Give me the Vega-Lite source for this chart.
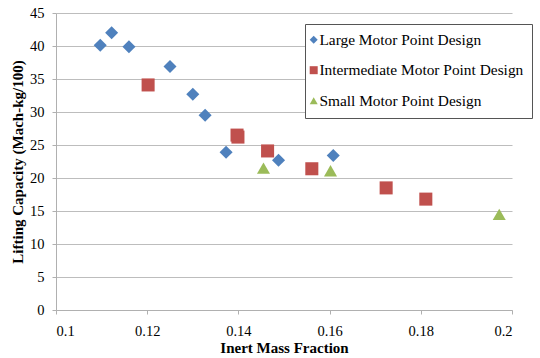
{
  "$schema": "https://vega.github.io/schema/vega-lite/v6.json",
  "autosize": {"type": "none"},
  "width": 456,
  "height": 297,
  "padding": {"left": 56, "top": 13, "right": 28, "bottom": 48},
  "background": "white",
  "data": {
    "values": [
      {"series": "Large Motor Point Design", "x": 0.1097, "y": 40.1},
      {"series": "Large Motor Point Design", "x": 0.1122, "y": 42.0},
      {"series": "Large Motor Point Design", "x": 0.1160, "y": 39.9},
      {"series": "Large Motor Point Design", "x": 0.1250, "y": 36.9},
      {"series": "Large Motor Point Design", "x": 0.1300, "y": 32.7},
      {"series": "Large Motor Point Design", "x": 0.1327, "y": 29.5},
      {"series": "Large Motor Point Design", "x": 0.1373, "y": 23.9},
      {"series": "Large Motor Point Design", "x": 0.1488, "y": 22.7},
      {"series": "Large Motor Point Design", "x": 0.1608, "y": 23.4},
      {"series": "Intermediate Motor Point Design", "x": 0.1202, "y": 34.1},
      {"series": "Intermediate Motor Point Design", "x": 0.1397, "y": 26.5},
      {"series": "Intermediate Motor Point Design", "x": 0.1399, "y": 26.2},
      {"series": "Intermediate Motor Point Design", "x": 0.1464, "y": 24.1},
      {"series": "Intermediate Motor Point Design", "x": 0.1561, "y": 21.4},
      {"series": "Intermediate Motor Point Design", "x": 0.1724, "y": 18.5},
      {"series": "Intermediate Motor Point Design", "x": 0.1811, "y": 16.8},
      {"series": "Small Motor Point Design", "x": 0.1455, "y": 21.5},
      {"series": "Small Motor Point Design", "x": 0.1602, "y": 21.1},
      {"series": "Small Motor Point Design", "x": 0.1972, "y": 14.5}
    ]
  },
  "mark": {"type": "point", "filled": true, "opacity": 1, "size": 170},
  "encoding": {
    "x": {
      "field": "x", "type": "quantitative",
      "scale": {"domain": [0.1, 0.2], "nice": false, "zero": false},
      "axis": {
        "title": "Inert Mass Fraction",
        "values": [0.1, 0.12, 0.14, 0.16, 0.18, 0.2],
        "format": "~g",
        "grid": false,
        "tickSize": 4,
        "labelPadding": 10,
        "titlePadding": 3
      }
    },
    "y": {
      "field": "y", "type": "quantitative",
      "scale": {"domain": [0, 45], "nice": false},
      "axis": {
        "title": "Lifting Capacity (Mach-kg/100)",
        "values": [0, 5, 10, 15, 20, 25, 30, 35, 40, 45],
        "grid": true,
        "tickSize": 4,
        "labelPadding": 8,
        "titlePadding": 4
      }
    },
    "color": {
      "field": "series", "type": "nominal",
      "scale": {
        "domain": ["Large Motor Point Design", "Intermediate Motor Point Design", "Small Motor Point Design"],
        "range": ["#4F81BD", "#C0504D", "#9BBB59"]
      },
      "legend": {
        "title": null,
        "orient": "none",
        "legendX": 249,
        "legendY": 11,
        "padding": 8,
        "rowPadding": 13.5,
        "symbolSize": 64,
        "symbolOffset": -7,
        "labelOffset": -2,
        "strokeColor": "#555555",
        "fillColor": "white",
        "labelFont": "Liberation Serif",
        "labelFontSize": 15.4,
        "labelColor": "#000000",
        "labelLimit": 400
      }
    },
    "shape": {
      "field": "series", "type": "nominal",
      "scale": {
        "domain": ["Large Motor Point Design", "Intermediate Motor Point Design", "Small Motor Point Design"],
        "range": ["diamond", "square", "triangle-up"]
      },
      "legend": null
    }
  },
  "config": {
    "view": {"stroke": null},
    "axis": {
      "labelFont": "Liberation Serif",
      "labelFontSize": 14.5,
      "labelColor": "#000000",
      "titleFont": "Liberation Serif",
      "titleFontSize": 15,
      "titleFontWeight": "bold",
      "titleColor": "#000000",
      "domainColor": "#B0B0B0",
      "tickColor": "#B0B0B0",
      "gridColor": "#BDBDBD",
      "gridWidth": 1
    }
  }
}
